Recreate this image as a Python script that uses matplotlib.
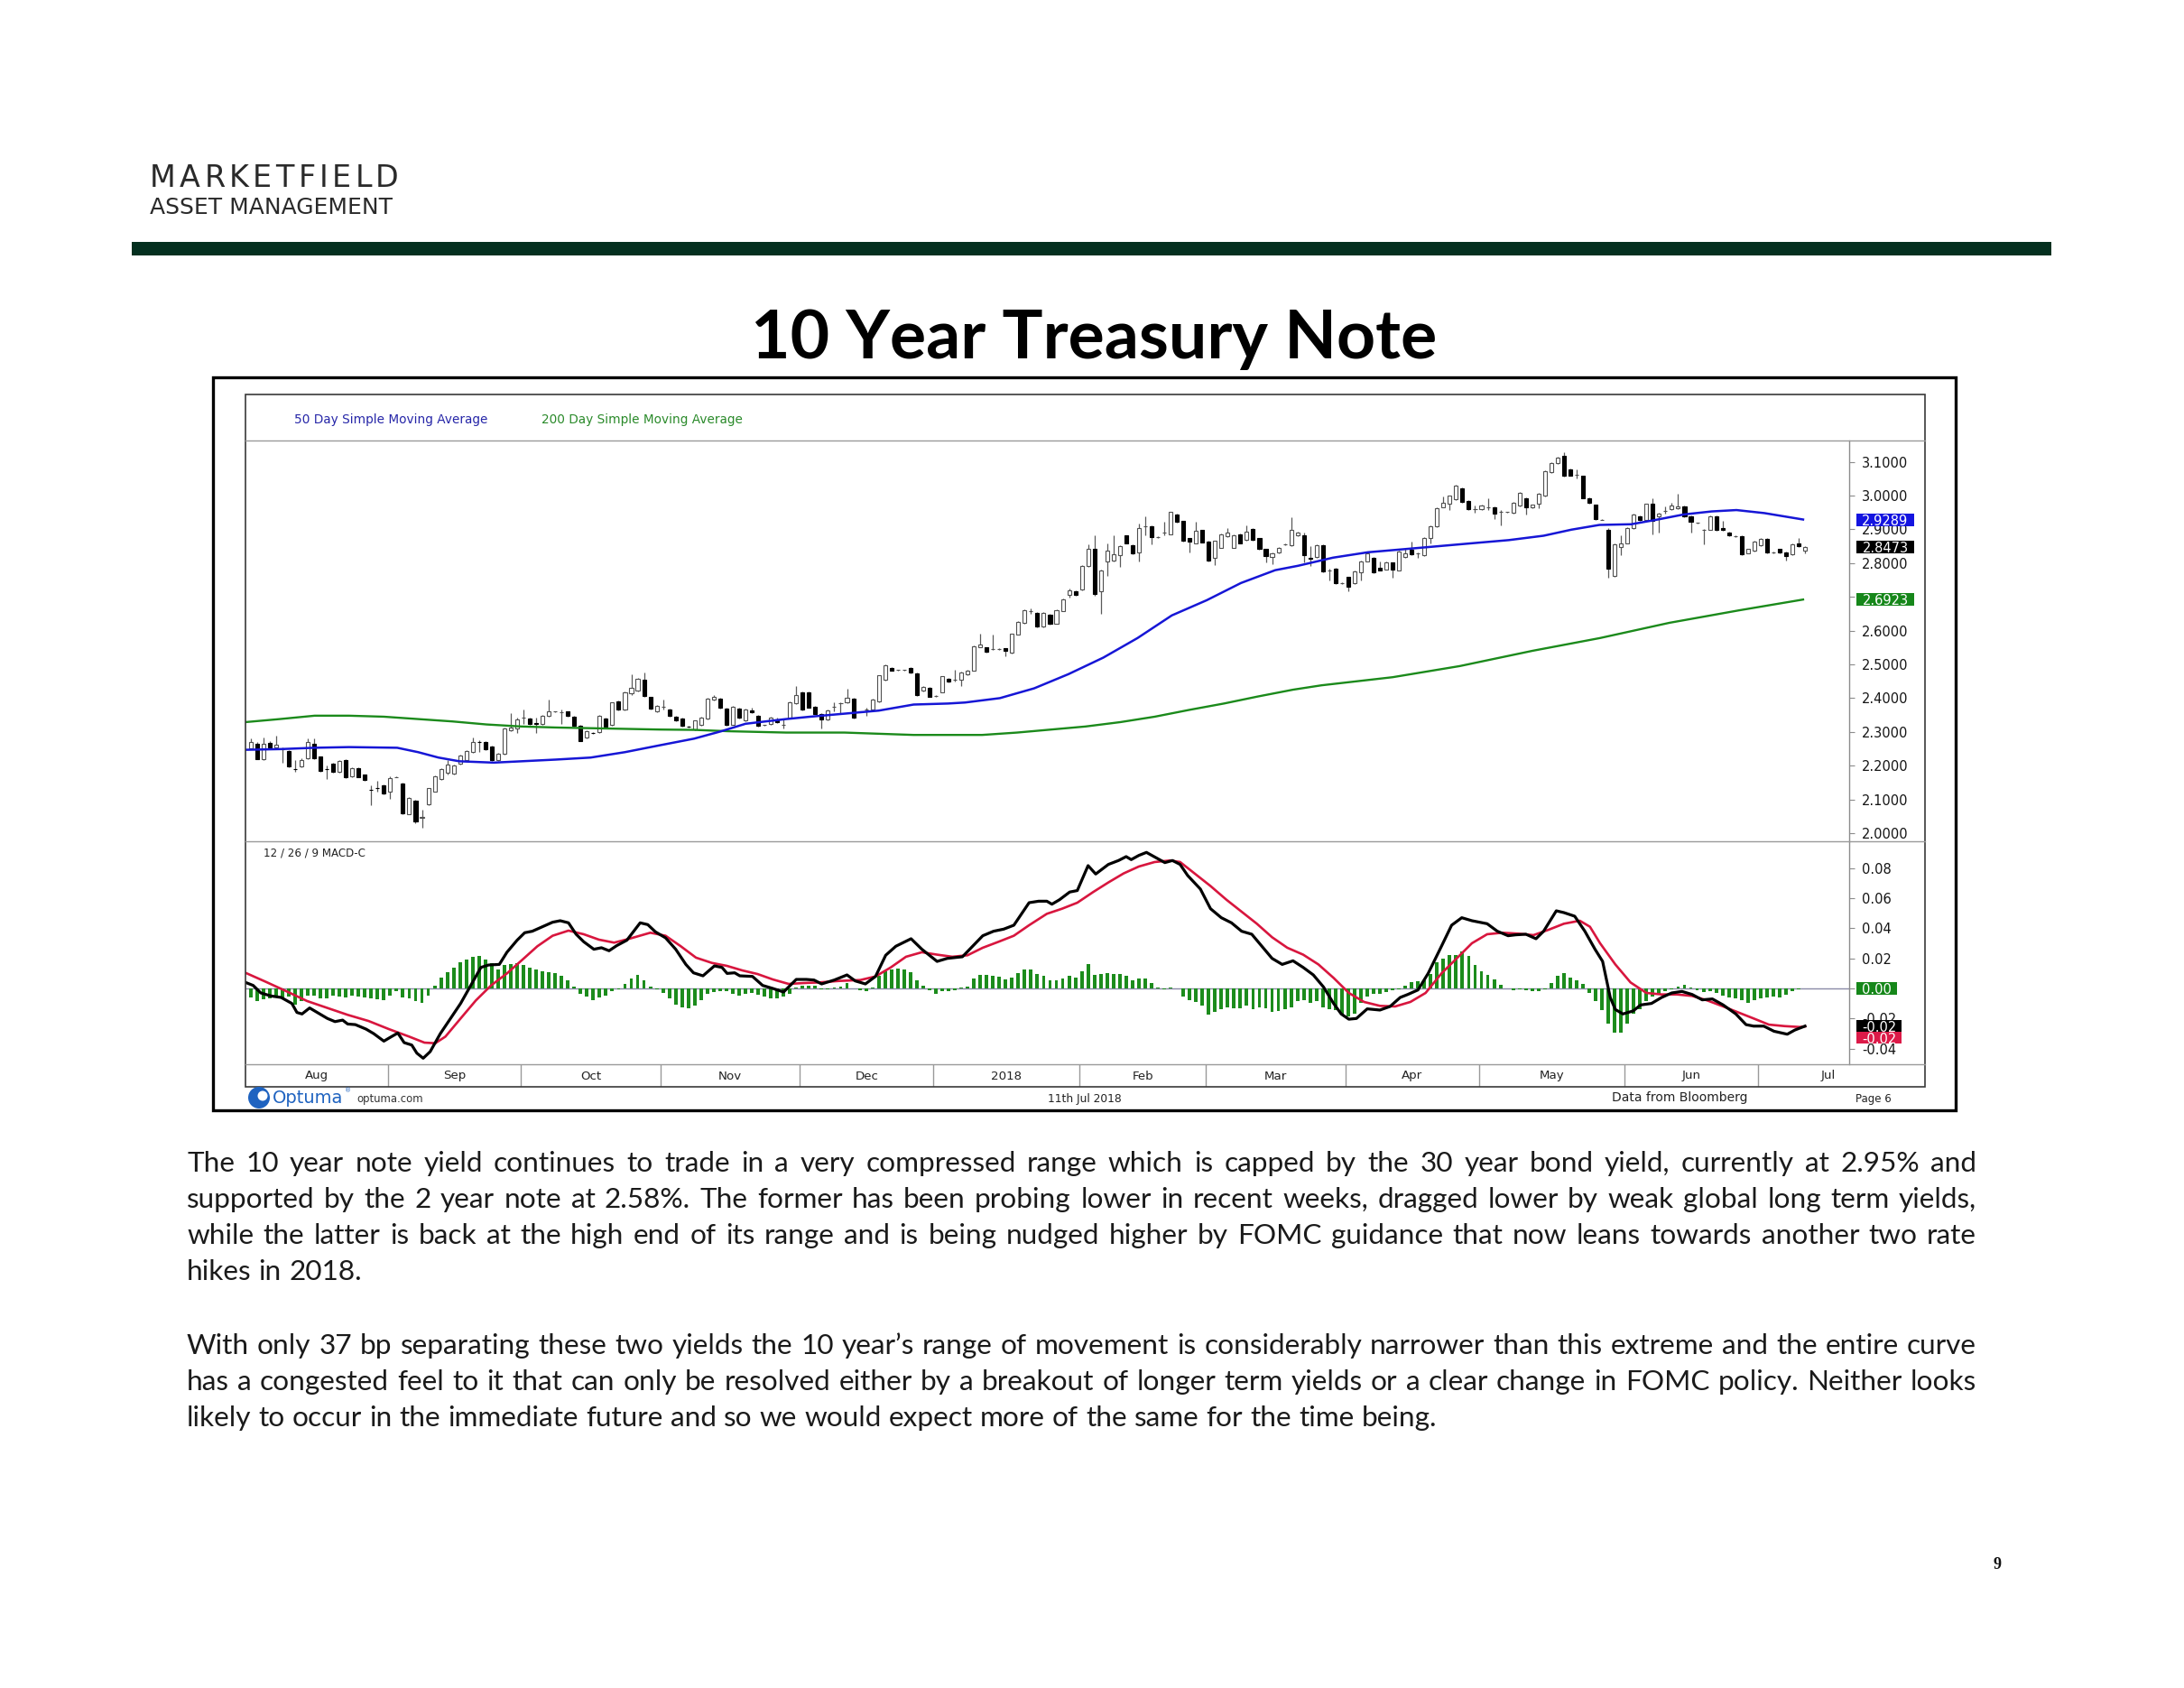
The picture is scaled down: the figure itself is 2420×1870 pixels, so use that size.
import matplotlib
matplotlib.use("Agg")
import matplotlib.pyplot as plt
import matplotlib.transforms as mtransforms
from matplotlib.patches import Rectangle, Circle
from matplotlib.ticker import FuncFormatter
import numpy as np
import pandas as pd

# ---------------- data ----------------
# daily candles, 1 Aug 2017 .. 11 Jul 2018 (10y yield, %)
opens = [
    2.251, 2.266, 2.220, 2.268, 2.253, 2.250, 2.244, 2.191, 2.197, 2.222,
    2.265, 2.226, 2.191, 2.206, 2.182, 2.217, 2.168, 2.193, 2.173, 2.129,
    2.135, 2.143, 2.124, 2.166, 2.148, 2.057, 2.097, 2.046, 2.086, 2.124,
    2.160, 2.179, 2.177, 2.206, 2.217, 2.240, 2.271, 2.271, 2.258, 2.217,
    2.235, 2.304, 2.311, 2.342, 2.340, 2.325, 2.324, 2.347, 2.360, 2.358,
    2.360, 2.345, 2.318, 2.284, 2.298, 2.300, 2.340, 2.320, 2.391, 2.365,
    2.414, 2.422, 2.454, 2.403, 2.360, 2.375, 2.366, 2.345, 2.340, 2.316,
    2.307, 2.320, 2.340, 2.396, 2.398, 2.369, 2.322, 2.369, 2.333, 2.363,
    2.347, 2.320, 2.324, 2.338, 2.320, 2.342, 2.384, 2.418, 2.418, 2.375,
    2.354, 2.336, 2.375, 2.384, 2.387, 2.398, 2.360, 2.365, 2.365, 2.391,
    2.454, 2.489, 2.483, 2.483, 2.489, 2.473, 2.422, 2.431, 2.407, 2.418,
    2.458, 2.455, 2.454, 2.470, 2.482, 2.552, 2.550, 2.545, 2.545, 2.547,
    2.534, 2.589, 2.623, 2.659, 2.652, 2.612, 2.648, 2.621, 2.659, 2.705,
    2.717, 2.721, 2.791, 2.841, 2.717, 2.806, 2.808, 2.824, 2.881, 2.853,
    2.832, 2.908, 2.910, 2.877, 2.890, 2.886, 2.944, 2.924, 2.873, 2.859,
    2.897, 2.864, 2.815, 2.846, 2.880, 2.846, 2.886, 2.868, 2.901, 2.873,
    2.841, 2.817, 2.832, 2.855, 2.853, 2.881, 2.881, 2.815, 2.817, 2.853,
    2.779, 2.783, 2.741, 2.758, 2.741, 2.773, 2.806, 2.815, 2.785, 2.782,
    2.801, 2.779, 2.819, 2.840, 2.830, 2.824, 2.873, 2.908, 2.966, 2.975,
    2.988, 3.022, 2.984, 2.960, 2.960, 2.966, 2.966, 2.951, 2.951, 2.948,
    2.971, 2.993, 2.964, 2.975, 2.999, 3.069, 3.095, 3.118, 3.078, 3.061,
    3.058, 2.993, 2.972, 2.929, 2.899, 2.761, 2.848, 2.859, 2.904, 2.939,
    2.928, 2.975, 2.939, 2.955, 2.960, 2.962, 2.969, 2.939, 2.919, 2.899,
    2.899, 2.939, 2.904, 2.890, 2.880, 2.880, 2.830, 2.837, 2.853, 2.871,
    2.832, 2.841, 2.832, 2.826, 2.859, 2.837]
highs = [
    2.280, 2.270, 2.284, 2.272, 2.289, 2.253, 2.246, 2.217, 2.222, 2.280,
    2.280, 2.228, 2.200, 2.208, 2.217, 2.219, 2.195, 2.195, 2.175, 2.142,
    2.155, 2.145, 2.168, 2.168, 2.150, 2.106, 2.099, 2.070, 2.135, 2.170,
    2.193, 2.217, 2.202, 2.233, 2.246, 2.284, 2.275, 2.273, 2.260, 2.237,
    2.313, 2.356, 2.342, 2.365, 2.342, 2.342, 2.349, 2.396, 2.362, 2.365,
    2.362, 2.347, 2.320, 2.304, 2.300, 2.349, 2.342, 2.389, 2.393, 2.420,
    2.471, 2.460, 2.476, 2.405, 2.380, 2.396, 2.368, 2.347, 2.342, 2.318,
    2.335, 2.344, 2.400, 2.409, 2.400, 2.371, 2.377, 2.371, 2.368, 2.372,
    2.349, 2.322, 2.344, 2.341, 2.338, 2.391, 2.436, 2.420, 2.420, 2.377,
    2.356, 2.365, 2.387, 2.389, 2.429, 2.400, 2.362, 2.373, 2.398, 2.469,
    2.500, 2.491, 2.485, 2.485, 2.491, 2.475, 2.435, 2.433, 2.409, 2.466,
    2.460, 2.485, 2.478, 2.484, 2.555, 2.592, 2.552, 2.587, 2.547, 2.549,
    2.592, 2.627, 2.662, 2.666, 2.654, 2.654, 2.650, 2.662, 2.694, 2.725,
    2.719, 2.793, 2.855, 2.883, 2.781, 2.859, 2.881, 2.852, 2.883, 2.855,
    2.917, 2.939, 2.912, 2.879, 2.922, 2.953, 2.946, 2.926, 2.875, 2.922,
    2.899, 2.866, 2.867, 2.888, 2.904, 2.885, 2.888, 2.913, 2.903, 2.875,
    2.843, 2.832, 2.848, 2.857, 2.935, 2.893, 2.890, 2.850, 2.855, 2.855,
    2.783, 2.785, 2.743, 2.760, 2.778, 2.808, 2.832, 2.817, 2.806, 2.805,
    2.803, 2.837, 2.841, 2.864, 2.832, 2.876, 2.912, 2.965, 2.997, 3.001,
    3.031, 3.024, 2.986, 2.971, 2.973, 2.993, 2.968, 2.957, 2.953, 2.981,
    3.010, 2.995, 2.974, 3.008, 3.075, 3.099, 3.115, 3.127, 3.080, 3.078,
    3.060, 2.995, 2.974, 2.931, 2.904, 2.857, 2.881, 2.906, 2.946, 2.941,
    2.977, 2.993, 2.948, 2.969, 2.979, 3.006, 2.971, 2.941, 2.921, 2.901,
    2.941, 2.941, 2.926, 2.892, 2.882, 2.882, 2.843, 2.866, 2.873, 2.873,
    2.834, 2.843, 2.834, 2.858, 2.873, 2.850]
lows = [
    2.249, 2.218, 2.217, 2.250, 2.249, 2.209, 2.195, 2.182, 2.195, 2.220,
    2.220, 2.182, 2.160, 2.180, 2.180, 2.164, 2.166, 2.165, 2.155, 2.084,
    2.124, 2.115, 2.102, 2.165, 2.057, 2.055, 2.030, 2.015, 2.084, 2.122,
    2.158, 2.173, 2.175, 2.204, 2.215, 2.238, 2.240, 2.247, 2.215, 2.215,
    2.233, 2.302, 2.298, 2.324, 2.322, 2.298, 2.322, 2.345, 2.358, 2.324,
    2.345, 2.316, 2.272, 2.282, 2.295, 2.298, 2.314, 2.318, 2.364, 2.363,
    2.409, 2.420, 2.405, 2.367, 2.358, 2.365, 2.345, 2.331, 2.316, 2.313,
    2.305, 2.318, 2.338, 2.394, 2.370, 2.318, 2.320, 2.340, 2.331, 2.355,
    2.316, 2.318, 2.322, 2.327, 2.311, 2.340, 2.382, 2.363, 2.371, 2.352,
    2.311, 2.334, 2.360, 2.356, 2.385, 2.340, 2.358, 2.347, 2.363, 2.389,
    2.452, 2.480, 2.481, 2.481, 2.474, 2.407, 2.420, 2.403, 2.405, 2.416,
    2.447, 2.449, 2.436, 2.468, 2.480, 2.550, 2.536, 2.543, 2.543, 2.525,
    2.532, 2.587, 2.621, 2.650, 2.610, 2.610, 2.617, 2.619, 2.657, 2.699,
    2.703, 2.719, 2.789, 2.703, 2.650, 2.761, 2.806, 2.788, 2.857, 2.826,
    2.806, 2.881, 2.855, 2.875, 2.881, 2.884, 2.920, 2.863, 2.832, 2.857,
    2.860, 2.806, 2.794, 2.844, 2.878, 2.844, 2.857, 2.866, 2.866, 2.839,
    2.801, 2.797, 2.830, 2.853, 2.851, 2.879, 2.801, 2.792, 2.815, 2.774,
    2.748, 2.739, 2.739, 2.717, 2.739, 2.748, 2.804, 2.771, 2.777, 2.780,
    2.757, 2.777, 2.815, 2.824, 2.815, 2.822, 2.859, 2.906, 2.964, 2.957,
    2.986, 2.979, 2.958, 2.948, 2.958, 2.957, 2.930, 2.913, 2.949, 2.946,
    2.969, 2.944, 2.962, 2.962, 2.997, 3.067, 3.093, 3.056, 3.058, 3.051,
    2.991, 2.977, 2.928, 2.927, 2.757, 2.759, 2.824, 2.857, 2.902, 2.926,
    2.926, 2.886, 2.890, 2.946, 2.958, 2.960, 2.937, 2.890, 2.917, 2.855,
    2.897, 2.895, 2.895, 2.879, 2.878, 2.824, 2.828, 2.835, 2.851, 2.830,
    2.830, 2.830, 2.808, 2.824, 2.848, 2.828]
closes = [
    2.271, 2.220, 2.266, 2.253, 2.261, 2.248, 2.197, 2.190, 2.217, 2.271,
    2.222, 2.184, 2.190, 2.182, 2.215, 2.166, 2.193, 2.167, 2.157, 2.128,
    2.134, 2.117, 2.164, 2.167, 2.059, 2.104, 2.035, 2.047, 2.133, 2.168,
    2.191, 2.204, 2.200, 2.231, 2.244, 2.271, 2.270, 2.249, 2.217, 2.235,
    2.311, 2.313, 2.336, 2.342, 2.324, 2.324, 2.347, 2.360, 2.360, 2.358,
    2.347, 2.318, 2.274, 2.302, 2.297, 2.347, 2.316, 2.387, 2.366, 2.418,
    2.431, 2.458, 2.407, 2.369, 2.378, 2.375, 2.347, 2.333, 2.318, 2.315,
    2.333, 2.342, 2.398, 2.405, 2.372, 2.320, 2.375, 2.342, 2.366, 2.357,
    2.318, 2.320, 2.342, 2.329, 2.320, 2.389, 2.409, 2.365, 2.373, 2.354,
    2.338, 2.363, 2.375, 2.384, 2.402, 2.342, 2.360, 2.365, 2.396, 2.467,
    2.498, 2.482, 2.483, 2.483, 2.476, 2.409, 2.433, 2.405, 2.407, 2.464,
    2.449, 2.455, 2.476, 2.482, 2.553, 2.559, 2.538, 2.545, 2.545, 2.541,
    2.590, 2.625, 2.660, 2.659, 2.612, 2.652, 2.619, 2.660, 2.692, 2.719,
    2.705, 2.791, 2.841, 2.708, 2.779, 2.837, 2.826, 2.850, 2.859, 2.828,
    2.904, 2.908, 2.877, 2.877, 2.890, 2.951, 2.922, 2.865, 2.864, 2.895,
    2.862, 2.808, 2.865, 2.886, 2.889, 2.883, 2.859, 2.892, 2.868, 2.841,
    2.821, 2.830, 2.846, 2.855, 2.899, 2.890, 2.824, 2.814, 2.853, 2.776,
    2.779, 2.741, 2.741, 2.730, 2.776, 2.806, 2.830, 2.773, 2.779, 2.803,
    2.782, 2.835, 2.828, 2.826, 2.830, 2.874, 2.910, 2.963, 2.978, 2.999,
    3.029, 2.981, 2.960, 2.960, 2.971, 2.966, 2.946, 2.951, 2.951, 2.979,
    3.008, 2.964, 2.972, 3.006, 3.073, 3.097, 3.113, 3.058, 3.060, 3.061,
    2.993, 2.979, 2.930, 2.929, 2.783, 2.855, 2.859, 2.904, 2.944, 2.928,
    2.975, 2.926, 2.946, 2.955, 2.971, 2.969, 2.939, 2.922, 2.919, 2.899,
    2.939, 2.897, 2.897, 2.881, 2.880, 2.826, 2.841, 2.864, 2.871, 2.832,
    2.832, 2.832, 2.821, 2.856, 2.850, 2.847]

# moving averages as (bar index, value) read points
sma50_pts = [(-0.8, 2.247), (4.6, 2.249), (10.1, 2.253), (15.5, 2.255), (23.1, 2.253),
             (26.4, 2.240), (29.6, 2.224), (32.9, 2.213), (38.3, 2.209), (42.7, 2.213),
             (48.1, 2.218), (53.6, 2.224), (59.0, 2.240), (64.4, 2.260), (69.9, 2.280),
             (74.2, 2.302), (78.0, 2.324), (80.7, 2.330), (84.4, 2.338), (88.2, 2.345),
             (93.6, 2.354), (99.0, 2.363), (104.5, 2.381), (109.9, 2.384), (112.6, 2.387),
             (118.1, 2.400), (123.5, 2.429), (128.9, 2.471), (134.4, 2.520), (139.8, 2.578),
             (145.2, 2.645), (150.7, 2.690), (156.1, 2.741), (161.5, 2.779), (165.1, 2.792),
             (170.6, 2.816), (176.1, 2.832), (181.7, 2.841), (187.2, 2.850), (192.7, 2.859),
             (198.3, 2.868), (203.8, 2.881), (208.2, 2.899), (212.6, 2.913), (217.6, 2.915),
             (221.5, 2.928), (225.9, 2.944), (230.3, 2.953), (234.2, 2.957), (238.6, 2.948),
             (244.7, 2.929)]
sma200_pts = [(-0.8, 2.329), (4.6, 2.338), (10.1, 2.348), (15.5, 2.348), (21.0, 2.345),
              (26.4, 2.338), (31.8, 2.331), (37.2, 2.322), (42.7, 2.316), (48.1, 2.313),
              (53.6, 2.311), (59.0, 2.309), (64.4, 2.307), (69.9, 2.306), (75.3, 2.302),
              (84.4, 2.298), (93.6, 2.298), (104.5, 2.291), (115.3, 2.291), (120.8, 2.298),
              (126.2, 2.307), (131.6, 2.316), (137.1, 2.329), (142.5, 2.345), (147.9, 2.365),
              (153.4, 2.384), (158.8, 2.405), (164.3, 2.425), (168.8, 2.438), (180.0, 2.462),
              (190.6, 2.495), (202.0, 2.540), (212.7, 2.578), (223.6, 2.623), (234.6, 2.660),
              (244.7, 2.692)]

# MACD 12/26/9: main line, signal line, histogram
macd_pts = [(-0.8, 0.0040), (0.4, 0.0020), (1.6, -0.0030), (3.2, -0.0050), (4.8, -0.0060),
            (6.5, -0.0100), (7.3, -0.0160), (8.1, -0.0170), (9.3, -0.0130), (10.5, -0.0160),
            (12.1, -0.0200), (13.3, -0.0221), (14.5, -0.0211), (15.3, -0.0237), (16.5, -0.0241),
            (18.2, -0.0271), (19.4, -0.0301), (21.0, -0.0351), (22.2, -0.0321), (23.2, -0.0297),
            (24.2, -0.0361), (25.4, -0.0377), (26.2, -0.0431), (27.2, -0.0465), (28.3, -0.0421),
            (29.9, -0.0301), (31.5, -0.0200), (33.1, -0.0100), (34.7, 0.0020), (36.3, 0.0140),
            (37.5, 0.0156), (39.2, 0.0160), (40.4, 0.0241), (42.0, 0.0321), (43.2, 0.0371),
            (44.4, 0.0381), (46.0, 0.0411), (47.6, 0.0441), (48.8, 0.0451), (50.1, 0.0437),
            (51.3, 0.0361), (52.5, 0.0311), (54.1, 0.0261), (55.3, 0.0271), (56.5, 0.0251),
            (57.7, 0.0285), (59.3, 0.0321), (61.4, 0.0437), (62.6, 0.0425), (63.8, 0.0377),
            (65.4, 0.0337), (67.0, 0.0261), (68.6, 0.0160), (69.8, 0.0104), (71.3, 0.0084),
            (73.1, 0.0150), (74.3, 0.0140), (75.1, 0.0100), (76.3, 0.0104), (77.1, 0.0084),
            (79.1, 0.0080), (80.7, 0.0020), (82.3, 0.0000), (84.0, -0.0024), (86.0, 0.0060),
            (87.6, 0.0060), (88.8, 0.0056), (90.0, 0.0030), (92.0, 0.0056), (94.0, 0.0090),
            (95.3, 0.0050), (96.9, 0.0030), (98.5, 0.0080), (100.1, 0.0221), (101.7, 0.0281),
            (104.1, 0.0331), (105.8, 0.0261), (108.2, 0.0180), (109.8, 0.0200), (112.2, 0.0211),
            (113.8, 0.0281), (115.4, 0.0351), (117.1, 0.0381), (118.7, 0.0395), (120.3, 0.0421),
            (122.7, 0.0571), (124.2, 0.0581), (125.5, 0.0581), (126.3, 0.0561), (127.5, 0.0591),
            (129.1, 0.0642), (130.3, 0.0652), (132.0, 0.0818), (133.2, 0.0762), (135.2, 0.0826),
            (136.8, 0.0852), (138.0, 0.0878), (138.8, 0.0858), (140.0, 0.0886), (141.2, 0.0906),
            (142.9, 0.0866), (144.1, 0.0838), (145.3, 0.0852), (146.5, 0.0826), (147.7, 0.0752),
            (149.7, 0.0662), (151.3, 0.0531), (153.0, 0.0471), (154.6, 0.0437), (156.2, 0.0381),
            (157.8, 0.0361), (159.4, 0.0281), (161.0, 0.0200), (162.6, 0.0160), (164.3, 0.0184),
            (165.9, 0.0140), (167.5, 0.0090), (169.1, 0.0010), (170.7, -0.0100), (171.9, -0.0170),
            (173.1, -0.0205), (174.3, -0.0200), (176.0, -0.0136), (178.0, -0.0144), (179.6, -0.0120),
            (181.2, -0.0060), (182.4, -0.0040), (184.0, -0.0010), (185.6, 0.0100), (187.7, 0.0281),
            (189.3, 0.0421), (190.9, 0.0471), (192.5, 0.0451), (194.9, 0.0431), (196.5, 0.0381),
            (198.2, 0.0351), (199.4, 0.0357), (201.0, 0.0361), (202.6, 0.0331), (203.8, 0.0381),
            (205.8, 0.0517), (207.0, 0.0505), (208.7, 0.0481), (210.3, 0.0381), (211.9, 0.0261),
            (213.1, 0.0180), (214.3, -0.0060), (215.1, -0.0140), (216.3, -0.0170), (217.9, -0.0150),
            (219.1, -0.0110), (220.8, -0.0100), (222.4, -0.0060), (224.0, -0.0030), (225.6, -0.0020),
            (227.2, -0.0040), (228.8, -0.0076), (230.4, -0.0070), (232.1, -0.0110), (234.1, -0.0170),
            (235.7, -0.0241), (236.9, -0.0251), (238.5, -0.0251), (240.1, -0.0285), (242.2, -0.0305),
            (243.4, -0.0277), (245.0, -0.0251)]
signal_pts = [(-0.8, 0.0104), (2.4, 0.0044), (5.7, -0.0020), (8.9, -0.0084), (12.1, -0.0130),
              (15.3, -0.0176), (18.6, -0.0217), (21.8, -0.0271), (25.0, -0.0321), (27.4, -0.0361),
              (29.1, -0.0365), (30.7, -0.0321), (33.1, -0.0200), (35.5, -0.0080), (37.9, 0.0020),
              (40.4, 0.0100), (42.8, 0.0190), (45.2, 0.0281), (47.6, 0.0351), (50.1, 0.0385),
              (52.5, 0.0361), (54.9, 0.0325), (57.3, 0.0305), (59.7, 0.0331), (63.0, 0.0371),
              (65.4, 0.0351), (67.8, 0.0281), (70.2, 0.0205), (72.7, 0.0170), (75.1, 0.0150),
              (77.5, 0.0120), (79.9, 0.0096), (82.3, 0.0060), (84.8, 0.0030), (87.2, 0.0036),
              (89.6, 0.0040), (92.8, 0.0050), (96.1, 0.0056), (98.5, 0.0080), (100.9, 0.0140),
              (103.3, 0.0211), (105.8, 0.0241), (108.2, 0.0225), (110.6, 0.0211), (113.0, 0.0221),
              (115.4, 0.0271), (117.9, 0.0311), (120.3, 0.0351), (122.7, 0.0421), (125.5, 0.0497),
              (127.9, 0.0531), (130.3, 0.0571), (132.8, 0.0642), (135.2, 0.0706), (137.6, 0.0766),
              (140.0, 0.0812), (142.5, 0.0842), (144.9, 0.0852), (146.5, 0.0842), (148.9, 0.0762),
              (151.3, 0.0682), (153.8, 0.0591), (156.2, 0.0511), (158.6, 0.0431), (161.0, 0.0341),
              (163.4, 0.0271), (165.9, 0.0225), (168.3, 0.0160), (170.7, 0.0070), (173.1, -0.0030),
              (175.5, -0.0090), (178.0, -0.0116), (180.4, -0.0120), (182.8, -0.0090), (185.2, -0.0030),
              (187.7, 0.0100), (190.1, 0.0200), (192.5, 0.0301), (194.9, 0.0361), (197.3, 0.0371),
              (199.8, 0.0365), (202.2, 0.0355), (204.6, 0.0391), (207.0, 0.0431), (209.5, 0.0451),
              (211.1, 0.0411), (212.7, 0.0301), (215.1, 0.0160), (217.5, 0.0040), (220.0, -0.0030),
              (222.4, -0.0040), (224.8, -0.0040), (227.2, -0.0050), (229.6, -0.0080), (232.1, -0.0120),
              (234.5, -0.0160), (236.9, -0.0200), (239.3, -0.0241), (241.8, -0.0251), (244.2, -0.0257),
              (245.0, -0.0253)]
macd_hist = [
    -0.0060, -0.0086, -0.0072, -0.0066, -0.0060, -0.0066, -0.0056, -0.0106, -0.0086, -0.0046,
    -0.0046, -0.0066, -0.0066, -0.0046, -0.0056, -0.0060, -0.0046, -0.0056, -0.0060, -0.0066,
    -0.0072, -0.0076, -0.0046, -0.0016, -0.0060, -0.0066, -0.0086, -0.0096, -0.0046, 0.0020,
    0.0074, 0.0108, 0.0140, 0.0174, 0.0194, 0.0208, 0.0214, 0.0194, 0.0168, 0.0124,
    0.0154, 0.0160, 0.0168, 0.0154, 0.0140, 0.0124, 0.0114, 0.0108, 0.0100, 0.0084,
    0.0054, 0.0014, -0.0036, -0.0056, -0.0076, -0.0060, -0.0046, -0.0016, -0.0006, 0.0028,
    0.0064, 0.0088, 0.0054, 0.0014, -0.0006, -0.0032, -0.0066, -0.0106, -0.0126, -0.0132,
    -0.0116, -0.0076, -0.0036, -0.0026, -0.0016, -0.0016, -0.0036, -0.0046, -0.0036, -0.0032,
    -0.0040, -0.0056, -0.0066, -0.0066, -0.0056, -0.0036, 0.0008, 0.0020, 0.0020, 0.0020,
    -0.0006, -0.0006, 0.0004, 0.0014, 0.0034, 0.0000, -0.0010, -0.0016, 0.0004, 0.0084,
    0.0114, 0.0128, 0.0134, 0.0124, 0.0108, 0.0054, 0.0020, -0.0012, -0.0036, -0.0020,
    -0.0016, -0.0010, 0.0004, 0.0014, 0.0064, 0.0088, 0.0088, 0.0084, 0.0080, 0.0060,
    0.0074, 0.0104, 0.0128, 0.0128, 0.0094, 0.0084,
    0.0054, 0.0054, 0.0064, 0.0084, 0.0074, 0.0114, 0.0160, 0.0088, 0.0094, 0.0104,
    0.0094, 0.0094, 0.0084, 0.0054, 0.0068, 0.0068, 0.0034, 0.0008, -0.0006, 0.0008,
    -0.0002, -0.0056, -0.0076, -0.0092, -0.0116, -0.0172, -0.0156, -0.0136, -0.0126, -0.0132,
    -0.0132, -0.0116, -0.0136, -0.0126, -0.0132, -0.0156, -0.0152, -0.0136, -0.0126, -0.0086,
    -0.0076, -0.0096, -0.0086, -0.0126, -0.0136, -0.0146, -0.0176, -0.0186, -0.0166, -0.0096,
    -0.0056, -0.0036, -0.0036, -0.0026, -0.0012, -0.0006, 0.0020, 0.0040, 0.0048, 0.0054,
    0.0094, 0.0174, 0.0200, 0.0224, 0.0224, 0.0248, 0.0214, 0.0154, 0.0114, 0.0088,
    0.0060, 0.0024, 0.0000, -0.0012, -0.0006, -0.0012, -0.0020, -0.0016, -0.0006, 0.0034,
    0.0084, 0.0104, 0.0074, 0.0054, 0.0028, -0.0032, -0.0086, -0.0146, -0.0232, -0.0296,
    -0.0296, -0.0236, -0.0166, -0.0136, -0.0086, -0.0056, -0.0036, -0.0016, -0.0006, 0.0014,
    0.0024, 0.0008, -0.0012, -0.0026, -0.0020, -0.0032, -0.0046, -0.0060, -0.0066, -0.0076,
    -0.0096, -0.0080, -0.0066, -0.0060, -0.0056, -0.0060, -0.0040, -0.0020, -0.0006]

price_ticks = [2.0, 2.1, 2.2, 2.3, 2.4, 2.5, 2.6, 2.7, 2.8, 2.9, 3.0, 3.1]
macd_ticks = [-0.04, -0.02, 0.0, 0.02, 0.04, 0.06, 0.08]
month_labels = ['Aug', 'Sep', 'Oct', 'Nov', 'Dec', '2018', 'Feb', 'Mar', 'Apr', 'May', 'Jun', 'Jul']
last_sma50, last_close, last_sma200 = 2.9289, 2.8473, 2.6923
last_macd, last_signal = -0.02, -0.02

para1 = [
    "The 10 year note yield continues to trade in a very compressed range which is capped by the 30 year bond yield, currently at 2.95% and",
    "supported by the 2 year note at 2.58%. The former has been probing lower in recent weeks, dragged lower by weak global long term yields,",
    "while the latter is back at the high end of its range and is being nudged higher by FOMC guidance that now leans towards another two rate",
    "hikes in 2018.",
]
para2 = [
    "With only 37 bp separating these two yields the 10 year\u2019s range of movement is considerably narrower than this extreme and the entire curve",
    "has a congested feel to it that can only be resolved either by a breakout of longer term yields or a clear change in FOMC policy. Neither looks",
    "likely to occur in the immediate future and so we would expect more of the same for the time being.",
]

# ---------------- page ----------------
plt.rcParams['font.family'] = 'DejaVu Sans'
W, H = 2420, 1870
fig = plt.figure(figsize=(W / 100, H / 100), dpi=100)
fig.patch.set_facecolor('white')
renderer = fig.canvas.get_renderer()


def fx(x):
    return x / W


def fy(y):
    return 1 - y / H


def box(x0, y0, x1, y1):
    return [fx(x0), fy(y1), (x1 - x0) / W, (y1 - y0) / H]


def hline(x0, x1, y, **kw):
    fig.add_artist(plt.Line2D([fx(x0), fx(x1)], [fy(y), fy(y)], transform=fig.transFigure, **kw))


def rect(x0, y0, x1, y1, **kw):
    fig.add_artist(Rectangle((fx(x0), fy(y1)), (x1 - x0) / W, (y1 - y0) / H,
                             transform=fig.transFigure, **kw))


def spaced(x, y, s, size, width, **kw):
    # letter-spaced heading stretched to a given pixel width
    arts = [fig.text(0, fy(y), ch, fontsize=size, va='baseline', **kw) for ch in s]
    ws = [a.get_window_extent(renderer).width for a in arts]
    track = (width - sum(ws)) / (len(s) - 1)
    for a, w in zip(arts, ws):
        a.set_x(fx(x))
        x += w + track


# header
spaced(166, 207, 'MARKETFIELD', 24, 276, color='#2a2a2a')
fig.text(fx(166), fy(237), 'ASSET MANAGEMENT', fontsize=18, color='#2a2a2a', va='baseline')
rect(146, 268, 2273, 283, color='#04301f', lw=0)

title = fig.text(fx(1212), fy(397), '10 Year Treasury Note', ha='center', va='baseline',
                 fontsize=50, weight='bold', family='Lato', color='black')
tw = title.get_window_extent(renderer).width
title.set_fontsize(50 * 762 / tw)

# chart frames
rect(236, 418, 2167, 1230, fill=False, ec='black', lw=2.4)
rect(272, 437, 2133, 1204, fill=False, ec='#3a3a3a', lw=1.2)
for yy in (488, 932, 1179):
    hline(272, 2133, yy, color='#9a9a9a', lw=1)

fig.text(fx(326), fy(465), '50 Day Simple Moving Average', color='#2626a8', fontsize=9.8, va='center')
fig.text(fx(600), fy(465), '200 Day Simple Moving Average', color='#2a8a2a', fontsize=9.8, va='center')

# bar index -> pixel geometry
PX, X0 = 7.03, 277.7
xl = (272 - X0) / PX
xr_panel = (2049 - X0) / PX
xr_band = (2133 - X0) / PX

axp = fig.add_axes(box(272, 488, 2049, 932))
axm = fig.add_axes(box(272, 932, 2049, 1179))
axd = fig.add_axes(box(272, 1179, 2133, 1204))

for ax in (axp, axm):
    ax.set_xlim(xl, xr_panel)
    for s in ('left', 'top', 'bottom'):
        ax.spines[s].set_visible(False)
    ax.spines['right'].set_color('#8c8c8c')
    ax.spines['right'].set_linewidth(1)
    ax.set_xticks([])
    ax.yaxis.tick_right()
    ax.tick_params(axis='y', direction='out', length=4, width=0.8, color='#8c8c8c',
                   pad=6, labelsize=10.5, labelcolor='#151515')
    ax.patch.set_alpha(0)

# candles
o = np.array(opens)
h = np.array(highs)
l = np.array(lows)
c = np.array(closes)
idx = np.arange(len(c))
up = c >= o
lo = np.minimum(o, c)
ht = np.abs(c - o)
axp.vlines(idx, l, h, color='#5a5a5a', lw=0.9, zorder=2)
axp.bar(idx[up], ht[up], bottom=lo[up], width=0.58, color='white', edgecolor='#505050',
        lw=0.8, zorder=3)
axp.bar(idx[~up], ht[~up], bottom=lo[~up], width=0.58, color='black', edgecolor='black',
        lw=0.8, zorder=3)

s50 = np.array(sma50_pts).T
s200 = np.array(sma200_pts).T
axp.plot(s200[0], s200[1], color='#1b8a1b', lw=1.7, zorder=4)
axp.plot(s50[0], s50[1], color='#1616d6', lw=1.8, zorder=4)
axp.set_ylim(1.976, 3.163)
axp.set_yticks(price_ticks)
# 2.7000 sits fully under the 200-day value box, as in the reference
axp.yaxis.set_major_formatter(FuncFormatter(lambda v, p: '' if abs(v - 2.7) < 1e-6 else f'{v:.4f}'))

# MACD panel
hist = np.array(macd_hist)
axm.bar(np.arange(len(hist)), hist, width=0.55, color='#1c8c1c', zorder=2)
axm.axhline(0, color='#8a8aa6', lw=1, zorder=1)
sg = np.array(signal_pts).T
mc = np.array(macd_pts).T
axm.plot(sg[0], sg[1], color='#d8163e', lw=1.9, zorder=3)
axm.plot(mc[0], mc[1], color='black', lw=2.3, zorder=4)
axm.set_ylim(-0.0505, 0.098)
axm.set_yticks(macd_ticks)
axm.yaxis.set_major_formatter(FuncFormatter(lambda v, p: '' if abs(v) < 1e-9 else f'{v:.2f}'))
axm.text(0.011, 0.975, '12 / 26 / 9 MACD-C', transform=axm.transAxes, fontsize=8.6,
         color='#222222', va='top', ha='left')


def tag(ax, val, txt, fc, x0, x1, hpx=14, dy=0):
    # coloured value box on the right axis, pixel extents x0..x1
    y0, y1 = ax.get_ylim()
    per_px = (y1 - y0) / (ax.get_position().height * H)
    yc = val - dy * per_px
    tr = mtransforms.blended_transform_factory(ax.transAxes, ax.transData)
    ax.add_patch(Rectangle(((x0 - 272) / 1777, yc - hpx / 2 * per_px), (x1 - x0) / 1777,
                           hpx * per_px, transform=tr, color=fc, lw=0, clip_on=False, zorder=10))
    ax.text(((x0 + x1) / 2 - 272) / 1777, yc, txt, transform=tr, ha='center',
            va='center_baseline', fontsize=10.5, color='white', clip_on=False, zorder=11)


tag(axp, last_sma50, f'{last_sma50:.4f}', '#1414e0', 2057, 2121)
tag(axp, last_close, f'{last_close:.4f}', 'black', 2057, 2121)
tag(axp, last_sma200, f'{last_sma200:.4f}', '#16871a', 2057, 2121)
tag(axm, 0.0, '0.00', '#16871a', 2057, 2102)
tag(axm, mc[1][-1], f'{last_macd:.2f}', 'black', 2057, 2107, hpx=13)
tag(axm, mc[1][-1], f'{last_signal:.2f}', '#dc1a48', 2057, 2107, hpx=13, dy=13)

# date band
days = pd.bdate_range('2017-08-01', '2018-08-31')
starts = [i for i in range(1, len(days)) if days[i].month != days[i - 1].month]
bounds = [xl] + [s - 1.4 for s in starts]
axd.set_xlim(xl, xr_band)
axd.set_ylim(0, 1)
axd.axis('off')
axd.vlines(bounds[1:12], 0, 1, color='#9a9a9a', lw=1)
for k, lab in enumerate(month_labels):
    axd.text((bounds[k] + bounds[k + 1]) / 2, 0.48, lab, ha='center', va='center',
             fontsize=9.6, color='#222222')

# footer of chart
fig.add_artist(Circle((287 / 100, (H - 1216) / 100), 0.12, transform=fig.dpi_scale_trans,
                      color='#1f63c0', lw=0))
fig.add_artist(Circle((291 / 100, (H - 1214) / 100), 0.055, transform=fig.dpi_scale_trans,
                      color='white', lw=0))
fig.text(fx(302), fy(1216), 'Optuma', color='#1f63c0', fontsize=14, va='center')
fig.text(fx(382), fy(1208), '\u00ae', color='#1f63c0', fontsize=5, va='center')
fig.text(fx(395), fy(1217), 'optuma.com', color='#333333', fontsize=8.4, va='center')
fig.text(fx(1202), fy(1217), '11th Jul 2018', color='#222222', fontsize=8.8, ha='center', va='center')
fig.text(fx(1861), fy(1216), 'Data from Bloomberg', color='#222222', fontsize=10, ha='center', va='center')
fig.text(fx(2076), fy(1217), 'Page 6', color='#222222', fontsize=8.5, ha='center', va='center')

# commentary, justified
body_font = 'Lato'
TX0, TX1 = 207, 2190


def width_of(s, size):
    t = fig.text(0, 0, s, fontsize=size, family=body_font)
    w = t.get_window_extent(renderer).width
    t.remove()
    return w


full_lines = para1[:3] + para2[:2]
fs = 20 * (0.99 * (TX1 - TX0)) / max(width_of(s, 20) for s in full_lines)
space_w = width_of('a a', fs) - width_of('aa', fs)


def put_line(s, ybase, justify):
    words = s.split(' ')
    arts = [fig.text(0, fy(ybase), w, fontsize=fs, family=body_font, color='#1a1a1a',
                     va='baseline') for w in words]
    ws = [a.get_window_extent(renderer).width for a in arts]
    gap = (TX1 - TX0 - sum(ws)) / (len(words) - 1) if justify else space_w
    x = TX0
    for a, w in zip(arts, ws):
        a.set_x(fx(x))
        x += w + gap


for k, s in enumerate(para1):
    put_line(s, 1298 + 40 * k, k < len(para1) - 1)
for k, s in enumerate(para2):
    put_line(s, 1500 + 40 * k, k < len(para2) - 1)

fig.text(fx(2213), fy(1733), '9', family='Liberation Serif', weight='bold', fontsize=13,
         ha='center', va='center', color='#111111')

fig.savefig('out.png', dpi=100, facecolor='white')
